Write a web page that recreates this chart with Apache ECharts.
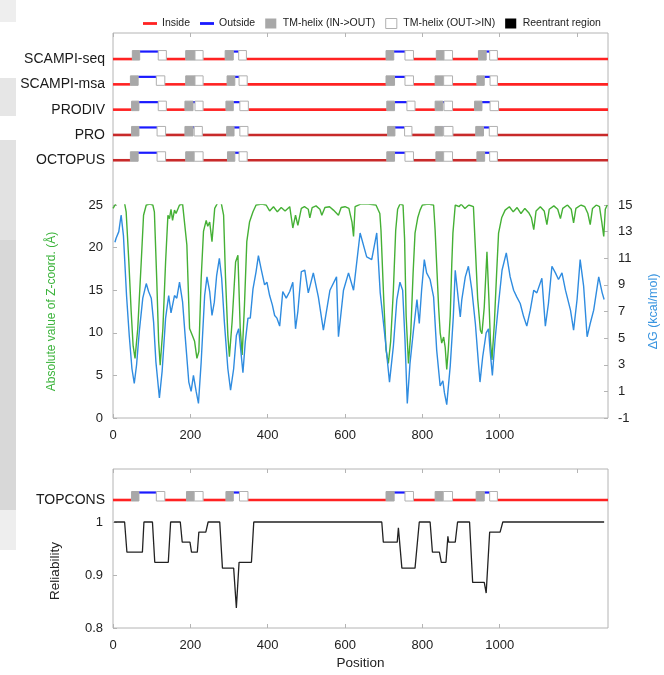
<!DOCTYPE html>
<html>
<head>
<meta charset="utf-8">
<title>TOPCONS</title>
<script src="https://cdn.jsdelivr.net/npm/echarts@6.0.0/dist/echarts.min.js"></script>
<style>
html,body{margin:0;padding:0;background:#fff;}
#chart{width:664px;height:675px;}
</style>
</head>
<body>
<div id="chart"></div>
<script>
var seqLength = 1280;
var xTicks = [0, 200, 400, 600, 800, 1000, 1200];
var zTicks = [0, 5, 10, 15, 20, 25];
var dgTicks = [-1, 1, 3, 5, 7, 9, 11, 13, 15];
var relTicks = [0.8, 0.9, 1];
var predictors = ['SCAMPI-seq', 'SCAMPI-msa', 'PRODIV', 'PRO', 'OCTOPUS'];

// TM helices [start, end], alternating IN->OUT / OUT->IN
var tmScampiSeq = [[50,69],[117,138],[188,212],[212,233],[290,311],[325,345],[706,726],[755,777],[836,856],[856,878],[945,965],[974,994]];
var tmScampiMsa = [[45,65],[112,134],[188,212],[212,233],[295,315],[326,347],[706,728],[755,777],[833,855],[855,878],[941,960],[975,994]];
var tmProdiv = [[48,67],[117,138],[186,207],[212,233],[292,311],[328,350],[708,728],[760,781],[833,853],[856,878],[935,954],[975,997]];
var tmPro = [[48,67],[114,136],[186,207],[210,231],[294,313],[328,349],[710,729],[754,773],[833,853],[855,879],[938,958],[973,994]];
var tmOctopus = [[45,65],[114,136],[188,210],[210,233],[296,315],[326,347],[708,728],[755,777],[835,855],[855,878],[941,961],[974,994]];
var tmTopcons = [[48,67],[112,134],[190,210],[210,233],[292,311],[327,349],[706,727],[755,777],[833,854],[854,878],[939,960],[974,994]];

// |Z-coord| (A) as [position, value]
var zcoord = [[0,24.6],[8,25.2],[20,25.3],[30,25.2],[34,24.2],[41,18.3],[47,12.5],[52,8.5],[57,7.0],[64,10.5],[73,18.3],[79,23.8],[86,25],[95,25.1],[103,25],[107,24.2],[113,16.4],[118,9],[122,6.2],[129,10.5],[136,18.3],[142,23.8],[146,23.4],[150,24.5],[154,23.2],[159,24.4],[163,24],[172,25],[180,25.1],[185,25],[191,20.3],[198,10.5],[205,9.7],[211,9],[217,7],[222,7.8],[228,16.4],[234,21.9],[241,23.2],[245,22.5],[250,23],[256,20.7],[263,24.6],[270,25.2],[280,25.2],[286,23.8],[291,16.4],[297,9.7],[301,7.2],[308,11.3],[317,18.3],[323,19.1],[329,10.5],[334,7.4],[340,13.3],[346,20.7],[353,23],[362,24.2],[370,25],[385,25.1],[396,25],[405,24.3],[415,24.8],[425,24.2],[435,24.7],[445,24.3],[457,24.8],[465,22.3],[472,23.8],[478,22.6],[487,24.6],[495,24.8],[505,24.5],[509,23.5],[515,24.7],[525,24.9],[535,24.5],[540,23.8],[548,24.7],[560,24.8],[570,24.4],[583,23.8],[590,24.7],[600,24.8],[610,24.6],[618,23],[622,21.3],[626,24.8],[640,25.1],[660,25.1],[680,25],[690,24],[693,22],[700,14],[706,8],[712,6.4],[718,9],[725,15],[731,22],[736,24.5],[742,25.1],[750,25],[754,21],[758,12],[764,6.4],[770,10],[776,17],[781,21.7],[788,23.5],[794,24.4],[800,25],[815,25.1],[829,25],[833,22],[838,17],[842,13],[846,10],[850,8.8],[855,9.5],[859,8.3],[863,5.7],[867,8],[872,12],[876,18],[879,21.7],[885,25],[895,24.8],[900,25.1],[910,24.6],[920,25],[932,24.8],[937,20],[943,14],[950,10.3],[954,9.9],[960,13],[967,19.5],[972,14],[976,9],[980,6.8],[986,11],[992,17],[997,21.7],[1005,23.5],[1014,24.4],[1025,24.8],[1035,24.2],[1045,24.7],[1055,24],[1065,24.6],[1075,24.1],[1082,23.5],[1088,22.1],[1094,24.3],[1105,24.8],[1115,24.3],[1122,22.7],[1128,24.5],[1140,24.9],[1150,24.5],[1157,23.4],[1163,24.6],[1175,25],[1185,24.5],[1191,22.9],[1197,24.6],[1210,25],[1220,24.8],[1228,24],[1234,22.7],[1240,24.6],[1250,25],[1258,24.8],[1264,23],[1269,21.3],[1273,24.5],[1278,25]];

// deltaG (kcal/mol) as [position, value]
var deltaG = [[5,12.2],[8,12.5],[15,13],[21,14.25],[27,12.7],[35,8.2],[42,5.2],[49,2.7],[55,1.6],[61,3],[68,5.5],[77,8],[86,9.1],[92,8.5],[99,8],[105,6.2],[111,3.2],[120,0.5],[127,2.5],[136,6.5],[144,8.2],[150,6.9],[159,8.2],[165,8],[172,9.2],[180,7.7],[187,5],[196,1.7],[202,1],[208,2.2],[215,1],[221,0.1],[228,3.2],[237,8.2],[243,9.6],[250,8.5],[256,6.7],[262,7.7],[268,9.7],[275,11],[281,9.5],[288,6.2],[297,2.7],[304,1.1],[312,2.7],[319,5.2],[325,5.7],[330,4.2],[336,2.4],[342,4.7],[349,6.5],[355,6.5],[362,8.7],[370,10],[376,11.2],[383,10.2],[392,9],[398,9.2],[405,8.2],[412,7.5],[418,6.7],[424,6.5],[431,5.9],[439,8.5],[448,8],[457,8.5],[465,9.2],[472,5.7],[478,7],[487,10],[496,10.1],[505,8.4],[518,9.9],[531,8.1],[544,5.6],[561,8.6],[578,9.6],[583,5.1],[596,8.6],[609,9.9],[622,8.6],[639,12.9],[656,11.1],[669,10.9],[682,12.9],[691,8.4],[704,4.9],[715,1.7],[725,4.4],[734,7.9],[742,9.2],[749,8.6],[755,4.9],[761,0.1],[768,3.1],[777,5.6],[786,7.9],[792,6.1],[798,8.6],[805,10.9],[811,9.9],[820,9.4],[829,8.1],[837,4.1],[846,1.4],[853,1.8],[857,0.9],[863,0],[872,2.9],[880,6.6],[885,10.1],[893,7.9],[898,6.6],[902,7.9],[911,9.6],[919,10.4],[928,8.6],[937,6.1],[945,3.1],[949,1.7],[956,3.6],[965,5.4],[971,5.7],[975,4.1],[981,2.2],[988,4.9],[997,7.6],[1006,10.1],[1017,11.4],[1027,9.6],[1036,8.6],[1044,8.1],[1053,7.6],[1062,6.6],[1070,5.9],[1079,7.1],[1088,8.6],[1096,8.4],[1109,9.5],[1118,5.9],[1126,7.6],[1135,10.4],[1144,9.9],[1152,9.4],[1161,9.9],[1170,8.6],[1183,7.1],[1191,5.6],[1200,7.9],[1208,10.9],[1217,8.9],[1226,5.1],[1234,6.1],[1243,7.1],[1256,9.6],[1265,8.4],[1270,7.9]];

// TOPCONS reliability as [position, value]
var reliability = [[3,1],[30,1],[36,0.943],[76,0.943],[80,1],[102,1],[108,0.924],[143,0.924],[149,1],[174,1],[179,0.962],[199,0.962],[203,0.943],[218,0.943],[222,0.981],[240,0.981],[246,1],[276,1],[283,0.913],[312,0.913],[319,0.838],[326,0.924],[358,0.924],[364,1],[695,1],[699,0.962],[735,0.962],[738,0.989],[747,0.913],[781,0.913],[792,1],[820,1],[826,0.943],[844,0.943],[849,0.924],[861,0.924],[866,0.973],[868,0.962],[885,0.962],[891,1],[922,1],[930,0.886],[960,0.886],[965,0.866],[974,0.981],[1001,0.981],[1008,1],[1270,1]];

var FONT = 'Arial, "Liberation Sans", Helvetica, sans-serif';
var frameColor = '#b4b4b4';
var greenColor = '#45b035';
var blueColor = '#2f8ce0';
var insideColors = ['#ff2222', '#ff2222', '#ff2222', '#c82a2a', '#c82a2a'];

// split helices into inside / outside / TM pieces for a row
function buildSegments(helices, row) {
    var out = { inside: [], outside: [], inOut: [], outIn: [] };
    var prev = 0;
    for (var i = 0; i < helices.length; i++) {
        var h = helices[i];
        if (h[0] > prev) {
            (i % 2 == 0 ? out.inside : out.outside).push([prev, h[0], row]);
        }
        (i % 2 == 0 ? out.inOut : out.outIn).push([h[0], h[1], row]);
        prev = h[1];
    }
    if (prev < seqLength) out.inside.push([prev, seqLength, row]);
    return out;
}

var allTm = [tmScampiSeq, tmScampiMsa, tmProdiv, tmPro, tmOctopus];
var segs = { inside: [], outside: [], inOut: [], outIn: [] };
for (var r = 0; r < allTm.length; r++) {
    var s = buildSegments(allTm[r], r);
    segs.inside = segs.inside.concat(s.inside);
    segs.outside = segs.outside.concat(s.outside);
    segs.inOut = segs.inOut.concat(s.inOut);
    segs.outIn = segs.outIn.concat(s.outIn);
}
var topSegs = buildSegments(tmTopcons, 0);

function renderTrack(kind, colorByRow) {
    return function (params, api) {
        var p0 = api.coord([api.value(0), api.value(2)]);
        var p1 = api.coord([api.value(1), api.value(2)]);
        var b = p0[1];
        if (kind == 'in') {
            return { type: 'line', shape: { x1: p0[0], y1: b, x2: p1[0], y2: b },
                style: { stroke: colorByRow ? insideColors[api.value(2)] : '#ff2222', lineWidth: 2.6 } };
        }
        if (kind == 'out') {
            return { type: 'line', shape: { x1: p0[0], y1: b - 7.5, x2: p1[0], y2: b - 7.5 },
                style: { stroke: '#1a1aff', lineWidth: 2.2 } };
        }
        var fill = kind == 'tmIO' ? '#a8a8a8' : '#ffffff';
        var stroke = kind == 'tmIO' ? '#a8a8a8' : '#b0b0b0';
        return { type: 'rect', shape: { x: p0[0], y: b - 8.5, width: p1[0] - p0[0], height: 9.5 },
            style: { fill: fill, stroke: stroke, lineWidth: 1 } };
    };
}

function trackSeries(name, kind, data, xi, yi, colorByRow, z) {
    return {
        name: name, type: 'custom', xAxisIndex: xi, yAxisIndex: yi, z: z,
        renderItem: renderTrack(kind, colorByRow),
        encode: { x: [0, 1], y: 2 },
        data: data, silent: true
    };
}

function hiddenX(grid) {
    return { gridIndex: grid, type: 'value', min: 0, max: seqLength, show: false };
}

function frameX(grid, pos, labels, name) {
    return {
        gridIndex: grid, type: 'value', min: 0, max: seqLength, interval: 200, position: pos,
        name: name || '', nameLocation: 'middle', nameGap: 28,
        nameTextStyle: { fontFamily: FONT, fontSize: 13.5, color: '#222' },
        axisLine: { show: false },
        axisTick: { show: true, inside: true, length: 4, customValues: xTicks, lineStyle: { color: frameColor } },
        axisLabel: {
            show: labels, customValues: xTicks, showMaxLabel: false, margin: 11,
            fontFamily: FONT, fontSize: 13, color: '#222',
            formatter: function (v) { return String(v); }
        },
        splitLine: { show: false }
    };
}

var chart = echarts.init(document.getElementById('chart'));
var option = {
    animation: false,
    backgroundColor: '#fff',
    textStyle: { fontFamily: FONT },
    legend: {
        left: 138, top: 13, itemWidth: 14, itemHeight: 10, itemGap: 10,
        textStyle: { fontFamily: FONT, fontSize: 10.5, color: '#222' },
        selectedMode: false,
        data: [
            { name: 'Inside', icon: 'path://M0,0H15V3H0Z', itemStyle: { color: '#ff2222' } },
            { name: 'Outside', icon: 'path://M0,0H15V3H0Z', itemStyle: { color: '#1a1aff' } },
            { name: 'TM-helix (IN->OUT)', icon: 'path://M0,0H10V9H0Z', itemStyle: { color: '#a8a8a8' } },
            { name: 'TM-helix (OUT->IN)', icon: 'path://M0,0H10V9H0Z', itemStyle: { color: '#ffffff', borderColor: '#b0b0b0', borderWidth: 1 } },
            { name: 'Reentrant region', icon: 'path://M0,0H10V9H0Z', itemStyle: { color: '#000000' } }
        ]
    },
    grid: [
        { left: 113, right: 56, top: 33, height: 385, show: true, borderColor: frameColor, borderWidth: 1, outerBoundsMode: 'none' },
        { left: 113, right: 56, top: 205, height: 213, outerBoundsMode: 'none' },
        { left: 113, right: 56, top: 46.4, height: 126.5, outerBoundsMode: 'none' },
        { left: 113, right: 56, top: 469, height: 159, show: true, borderColor: frameColor, borderWidth: 1, outerBoundsMode: 'none' },
        { left: 113, right: 56, top: 487.5, height: 25, outerBoundsMode: 'none' }
    ],
    xAxis: [
        frameX(0, 'bottom', true),
        frameX(0, 'top', false),
        hiddenX(1),
        hiddenX(2),
        frameX(3, 'bottom', true, 'Position'),
        frameX(3, 'top', false),
        hiddenX(4)
    ],
    yAxis: [
        { gridIndex: 0, type: 'value', show: false },
        {
            gridIndex: 1, type: 'value', min: 0, max: 25, interval: 5, position: 'left',
            name: 'Absolute value of Z-coord. (\u00C5)', nameLocation: 'middle', nameGap: 55, nameRotate: 90,
            nameTextStyle: { fontFamily: FONT, fontSize: 12, color: '#3cb43c' },
            axisLine: { show: false },
            axisTick: { inside: true, length: 4, customValues: zTicks, lineStyle: { color: frameColor } },
            axisLabel: { customValues: zTicks, margin: 10, fontFamily: FONT, fontSize: 13, color: '#222' },
            splitLine: { show: false }
        },
        {
            gridIndex: 1, type: 'value', min: -1, max: 15, interval: 2, position: 'right',
            name: '\u0394G (kcal/mol)', nameLocation: 'middle', nameGap: 39, nameRotate: 90,
            nameTextStyle: { fontFamily: FONT, fontSize: 12.5, color: '#3a95e0' },
            axisLine: { show: false },
            axisTick: { inside: true, length: 4, customValues: dgTicks, lineStyle: { color: frameColor } },
            axisLabel: { customValues: dgTicks, margin: 10, fontFamily: FONT, fontSize: 13, color: '#222' },
            splitLine: { show: false }
        },
        {
            gridIndex: 2, type: 'category', inverse: true, data: predictors,
            axisLine: { show: false }, axisTick: { show: false },
            axisLabel: { margin: 8, fontFamily: FONT, fontSize: 14, color: '#1a1a1a' }
        },
        {
            gridIndex: 3, type: 'value', min: 0.8, max: 1.1, interval: 0.1, position: 'left',
            axisLine: { show: false },
            axisTick: { inside: true, length: 4, customValues: relTicks, lineStyle: { color: frameColor } },
            axisLabel: {
                customValues: relTicks, margin: 10, fontFamily: FONT, fontSize: 13, color: '#222',
                formatter: function (v) { return v > 0.999 ? '1' : String(+v.toFixed(1)); }
            },
            splitLine: { show: false }
        },
        {
            gridIndex: 4, type: 'category', data: ['TOPCONS'],
            axisLine: { show: false }, axisTick: { show: false },
            axisLabel: { margin: 8, fontFamily: FONT, fontSize: 14, color: '#1a1a1a' }
        }
    ],
    graphic: [
        { type: 'rect', left: 0, top: 0, shape: { width: 16, height: 22 }, style: { fill: '#eeeeee' }, z: -1 },
        { type: 'rect', left: 0, top: 78, shape: { width: 16, height: 38 }, style: { fill: '#e6e6e6' }, z: -1 },
        { type: 'rect', left: 0, top: 140, shape: { width: 16, height: 100 }, style: { fill: '#e2e2e2' }, z: -1 },
        { type: 'rect', left: 0, top: 240, shape: { width: 16, height: 270 }, style: { fill: '#d8d8d8' }, z: -1 },
        { type: 'rect', left: 0, top: 510, shape: { width: 16, height: 40 }, style: { fill: '#eeeeee' }, z: -1 },
        {
            type: 'text', x: 55, y: 571, rotation: Math.PI / 2,
            style: { text: 'Reliability', fontFamily: FONT, fontSize: 13.5, fill: '#222', textAlign: 'center', textVerticalAlign: 'middle' }
        }
    ],
    series: [
        {
            name: 'zcoord', type: 'line', xAxisIndex: 2, yAxisIndex: 1, data: zcoord,
            showSymbol: false, silent: true, z: 3,
            lineStyle: { color: greenColor, width: 1.4 }, itemStyle: { color: greenColor }
        },
        {
            name: 'dg', type: 'line', xAxisIndex: 2, yAxisIndex: 2, data: deltaG,
            showSymbol: false, silent: true, z: 4,
            lineStyle: { color: blueColor, width: 1.4 }, itemStyle: { color: blueColor }
        },
        {
            name: 'reliability', type: 'line', xAxisIndex: 4, yAxisIndex: 4, data: reliability,
            showSymbol: false, silent: true,
            lineStyle: { color: '#222', width: 1.3 }, itemStyle: { color: '#222' }
        },
        trackSeries('Inside', 'in', segs.inside, 3, 3, true, 5),
        trackSeries('Outside', 'out', segs.outside, 3, 3, false, 5),
        trackSeries('TM-helix (IN->OUT)', 'tmIO', segs.inOut, 3, 3, false, 6),
        trackSeries('TM-helix (OUT->IN)', 'tmOI', segs.outIn, 3, 3, false, 6),
        trackSeries('Inside', 'in', topSegs.inside, 6, 5, false, 5),
        trackSeries('Outside', 'out', topSegs.outside, 6, 5, false, 5),
        trackSeries('TM-helix (IN->OUT)', 'tmIO', topSegs.inOut, 6, 5, false, 6),
        trackSeries('TM-helix (OUT->IN)', 'tmOI', topSegs.outIn, 6, 5, false, 6),
        trackSeries('Reentrant region', 'tmIO', [], 6, 5, false, 6)
    ]
};
chart.setOption(option);
</script>
</body>
</html>
